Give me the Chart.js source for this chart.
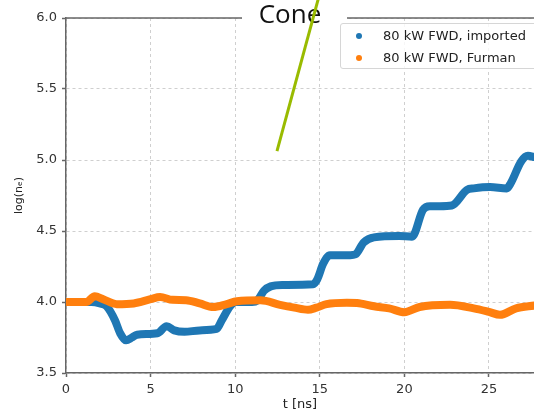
<!DOCTYPE html>
<html>
<head>
<meta charset="utf-8">
<script src="https://cdn.jsdelivr.net/npm/chart.js@4.4.1/dist/chart.umd.min.js"></script>
<style>
  body { margin: 0; background: #fff; }
  #wrap { position: relative; width: 534px; height: 412px; overflow: hidden; }
  #legend {
    position: absolute; left: 340px; top: 23px; width: 210px; height: 44px;
    border: 1px solid #d6d6d6; border-radius: 3px; background: rgba(255,255,255,0.8);
    font-family: "DejaVu Sans", sans-serif; font-size: 13px; color: #222;
  }
  .item { position: absolute; left: 0; height: 20px; line-height: 20px; white-space: nowrap; }
  .dot { position: absolute; left: 15px; top: 7px; width: 6px; height: 6px; border-radius: 50%; }
  .lbl { position: absolute; left: 42px; top: 0; }
</style>
</head>
<body>
<div id="wrap">
  <canvas id="grafica" width="534" height="412"></canvas>
  <div id="legend"></div>
</div>
<script>
// t [ns] y log(ne)
const tImported = [0, 1.5, 2.0, 2.4, 2.9, 3.2, 3.55, 3.9, 4.2, 5.4, 5.95, 6.4, 7.0, 7.9, 8.9, 9.2, 9.7, 10.0, 11.0, 11.3,
  11.7, 12.1, 12.8, 14.6, 14.85, 15.2, 15.6, 16.8, 17.1, 17.6, 18.2, 19.7, 20.45, 21.1, 21.5, 22.1, 22.8, 23.7,
  24.1, 25.06, 26.05, 26.3, 26.9, 27.3, 27.7];
const nImported = [4.0, 4.0, 3.99, 3.97, 3.87, 3.78, 3.73, 3.75, 3.77, 3.78, 3.83, 3.80, 3.79, 3.80, 3.81, 3.87, 3.97, 4.0, 4.0, 4.01,
  4.08, 4.11, 4.12, 4.125, 4.16, 4.27, 4.33, 4.33, 4.335, 4.42, 4.455, 4.465, 4.46, 4.65, 4.675, 4.675, 4.68, 4.79,
  4.80, 4.81, 4.80, 4.84, 4.99, 5.03, 5.02];
const tFurman = [0, 1.2, 1.7, 2.2, 3.0, 4.0, 5.0, 5.56, 6.3, 7.1, 7.9, 8.7, 9.5, 10.1, 11.5, 12.65, 13.5, 14.3, 14.8,
  15.4, 16.6, 17.2, 18.2, 19.1, 20.0, 20.9, 22.7, 24.1, 25.0, 25.65, 26.6, 27.7];
const nFurman = [4.0, 4.0, 4.04, 4.02, 3.985, 3.99, 4.02, 4.035, 4.015, 4.013, 3.99, 3.965, 3.985, 4.005, 4.012, 3.98, 3.96, 3.945, 3.96,
  3.985, 3.995, 3.993, 3.97, 3.955, 3.928, 3.965, 3.98, 3.955, 3.93, 3.91, 3.955, 3.975];
// linea verde encima del titulo
const tCone = [12.47, 14.9];
const nCone = [5.063, 6.13];
const xTicks = [0, 5, 10, 15, 20, 25];
const labels = ["80 kW FWD, imported", "80 kW FWD, Furman"];
const colores = ["#1f77b4", "#ff7f0e"];

function puntos(t, n) { return t.map((v, i) => ({x: v, y: n[i]})); }

const tituloCone = {
  id: 'tituloCone',
  beforeDatasetsDraw(chart) {
    const ctx = chart.ctx, a = chart.chartArea;
    ctx.save();
    ctx.strokeStyle = '#666';
    ctx.lineWidth = 1.5;
    ctx.beginPath();
    ctx.moveTo(a.left, a.top);
    ctx.lineTo(a.right, a.top);
    ctx.stroke();
    ctx.fillStyle = '#fff';
    ctx.fillRect(242, 0, 105, 38);
    ctx.fillStyle = '#111';
    ctx.font = '26px "Open Sans"';
    ctx.textAlign = 'center';
    ctx.textBaseline = 'alphabetic';
    ctx.fillText('Cone', 290, 23);
    ctx.restore();
  }
};

const grafica = document.querySelector('#grafica');
const myChart = new Chart(grafica, {
  type: 'line',
  data: {
    datasets: [
      {
        label: labels[0], data: puntos(tImported, nImported), borderColor: colores[0],
        borderWidth: 8, pointRadius: 0, cubicInterpolationMode: 'monotone',
        borderCapStyle: 'round', borderJoinStyle: 'round', order: 2,
      },
      {
        label: labels[1], data: puntos(tFurman, nFurman), borderColor: colores[1],
        borderWidth: 8, pointRadius: 0, cubicInterpolationMode: 'monotone',
        borderCapStyle: 'round', borderJoinStyle: 'round', order: 1,
      },
      {
        label: 'cone', data: puntos(tCone, nCone), borderColor: '#99bb00',
        borderWidth: 3, pointRadius: 0, clip: false, order: 0,
      },
    ]
  },
  options: {
    responsive: false,
    animation: false,
    layout: { padding: { top: 18, right: 0, left: 0, bottom: 0 } },
    plugins: { legend: { display: false }, tooltip: { enabled: false }, title: { display: false } },
    scales: {
      x: {
        type: 'linear', min: 0, max: 27.66,
        afterFit: s => { s.height = 39; },
        afterBuildTicks: s => { s.ticks = xTicks.map(v => ({value: v})); },
        ticks: { padding: 5, color: '#333', font: { family: 'DejaVu Sans', size: 13 } },
        grid: { color: '#cfcfcf', lineWidth: 1, tickLength: 4, tickColor: '#666', tickWidth: 1.5 },
        border: { color: '#666', width: 1.5, dash: [3, 3] },
        title: { display: true, text: 't [ns]', color: '#222', padding: { top: 0, bottom: 0 },
          font: { family: 'DejaVu Sans', size: 13 } },
      },
      y: {
        min: 3.5, max: 6.0,
        afterFit: s => { s.width = 66; },
        ticks: { stepSize: 0.5, padding: 5, color: '#333', font: { family: 'DejaVu Sans', size: 13 },
          callback: v => v.toFixed(1) },
        grid: { color: '#cfcfcf', lineWidth: 1, tickLength: 4, tickColor: '#666', tickWidth: 1.5 },
        border: { color: '#666', width: 1.5, dash: [3, 3] },
        title: { display: true, text: 'log(nₑ)', color: '#222', padding: { top: 13, bottom: 0 },
          font: { family: 'DejaVu Sans', size: 11 } },
      },
    },
  },
  plugins: [tituloCone],
});

// leyenda dentro del grafico
const leyenda = document.getElementById('legend');
labels.forEach((txt, i) => {
  const d = document.createElement('div');
  d.className = 'item';
  d.style.top = (2 + i * 22) + 'px';
  d.innerHTML = '<span class="dot" style="background:' + colores[i] + '"></span><span class="lbl">' + txt + '</span>';
  leyenda.appendChild(d);
});
</script>
</body>
</html>
